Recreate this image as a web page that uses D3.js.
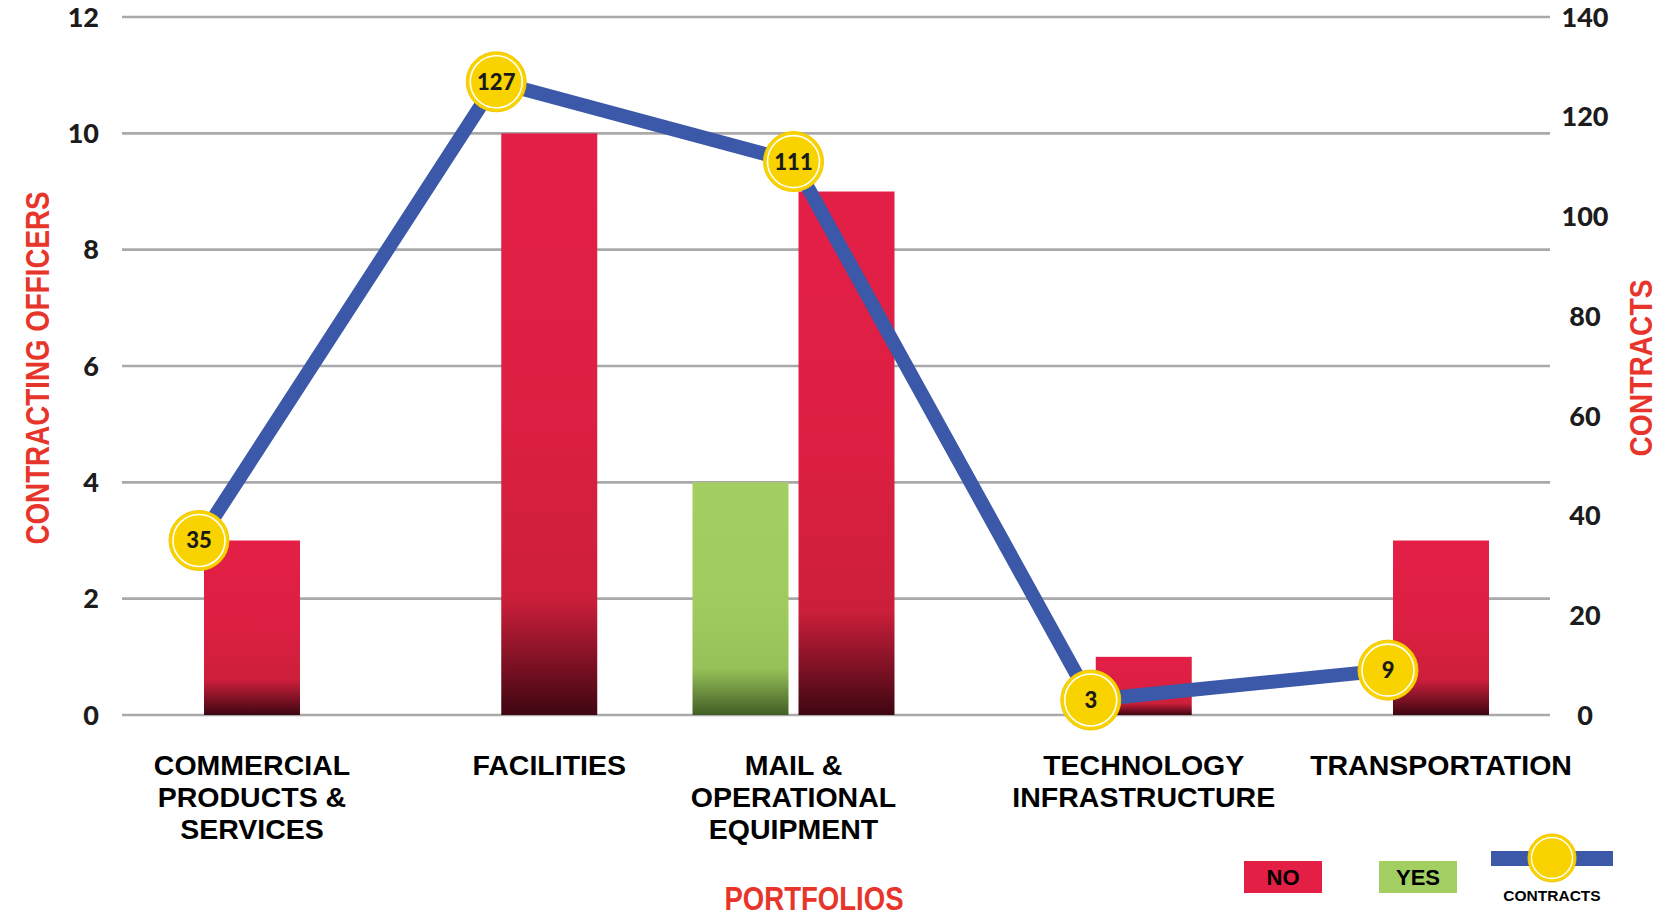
<!DOCTYPE html>
<html><head><meta charset="utf-8">
<script src="https://cdn.jsdelivr.net/npm/d3@7"></script>
<style>html,body{margin:0;padding:0;background:#fff;}svg{display:block;}</style>
</head><body>
<svg id="chart" width="1667" height="917"></svg>
<script>
// ---- data ----
const categories = ["COMMERCIAL PRODUCTS & SERVICES","FACILITIES","MAIL & OPERATIONAL EQUIPMENT","TECHNOLOGY INFRASTRUCTURE","TRANSPORTATION"];
const categoryLines = [["COMMERCIAL","PRODUCTS &","SERVICES"],["FACILITIES"],["MAIL &","OPERATIONAL","EQUIPMENT"],["TECHNOLOGY","INFRASTRUCTURE"],["TRANSPORTATION"]];
const seriesNames = ["YES","NO"];
const officersYes = [0, 0, 4, 0, 0];
const officersNo = [3, 10, 9, 1, 3];
const contracts = [35, 127, 111, 3, 9];
const leftTicks = [0, 2, 4, 6, 8, 10, 12];
const rightTicks = [0, 20, 40, 60, 80, 100, 120, 140];

// ---- layout ----
const svg = d3.select("#chart");
const plotTop = 17, plotBottom = 715, gridX0 = 122, gridX1 = 1550;
const bw = 96, gap = 10;

const x = d3.scalePoint().domain(categories).range([199, 1388]);
const x1 = d3.scaleBand().domain(seriesNames).range([-(bw + gap/2), bw + gap/2]).paddingInner(gap/(bw+gap)).paddingOuter(0);
const y = d3.scaleLinear().domain([0, 12]).range([plotBottom, plotTop]);
const y2 = d3.scaleLinear().domain([0, 140]).range([plotBottom, plotTop]);

const defs = svg.append("defs");
function grad(id, stops){
  const g = defs.append("linearGradient").attr("id", id).attr("x1",0).attr("y1",0).attr("x2",0).attr("y2",1);
  stops.forEach(s => g.append("stop").attr("offset", s[0]).attr("stop-color", s[1]));
}
grad("gNo", [[0,"#e41f47"],[0.5,"#dc1f42"],[0.8,"#cc1f3b"],[1,"#3e0611"]]);
grad("gYes", [[0,"#a3cf62"],[0.5,"#a0cc5f"],[0.8,"#96c159"],[1,"#425e26"]]);

// gridlines
svg.append("g").selectAll("line").data(leftTicks).join("line")
  .attr("x1", gridX0).attr("x2", gridX1)
  .attr("y1", d => y(d)).attr("y2", d => y(d))
  .attr("stroke", "#a9a9ac").attr("stroke-width", 2.6);

const numFont = "Lato, 'Open Sans', sans-serif";
// left tick labels
svg.append("g").selectAll("text").data(leftTicks).join("text")
  .attr("x", 99).attr("y", d => y(d)).attr("dy", "0.36em")
  .attr("text-anchor", "end")
  .style("font-family", numFont).style("font-weight", 900).style("font-size", "27px").attr("fill", "#1c1c1c")
  .text(d => d);
// right tick labels
svg.append("g").selectAll("text").data(rightTicks).join("text")
  .attr("x", 1585).attr("y", d => y2(d)).attr("dy", "0.36em")
  .attr("text-anchor", "middle")
  .style("font-family", numFont).style("font-weight", 900).style("font-size", "27px").attr("fill", "#1c1c1c")
  .text(d => d);

// bars
const barData = [];
categories.forEach((c, i) => {
  barData.push({cat: c, s: "YES", v: officersYes[i]});
  barData.push({cat: c, s: "NO", v: officersNo[i]});
});
svg.append("g").selectAll("rect").data(barData.filter(d => d.v > 0)).join("rect")
  .attr("x", d => x(d.cat) + x1(d.s))
  .attr("width", x1.bandwidth())
  .attr("y", d => y(d.v))
  .attr("height", d => y(0) - y(d.v))
  .attr("fill", d => d.s === "NO" ? "url(#gNo)" : "url(#gYes)");

// category labels
const labelFont = "'Liberation Sans', Arial, Helvetica, sans-serif";
const lab = svg.append("g").selectAll("text").data(categories).join("text")
  .attr("text-anchor", "middle")
  .style("font-family", labelFont).style("font-weight", 700).style("font-size", "28.5px").attr("fill", "#000")
  .attr("transform", (c, i) => {
    const drawn = barData.filter(d => d.cat === c && d.v > 0).map(d => x(c) + x1(d.s) + x1.bandwidth()/2);
    return `translate(${d3.mean(drawn)},775)`;
  });
lab.each(function(c, i){
  d3.select(this).selectAll("tspan").data(categoryLines[i]).join("tspan")
    .attr("x", 0).attr("y", (d, j) => j * 32).text(d => d);
});

// contracts line
const line = d3.line().x((d, i) => x(categories[i])).y(d => y2(d));
svg.append("path").datum(contracts).attr("d", line)
  .attr("fill", "none").attr("stroke", "#3c58a8").attr("stroke-width", 14).attr("stroke-linejoin", "miter");

const pts = svg.append("g").selectAll("g").data(contracts).join("g")
  .attr("transform", (d, i) => `translate(${x(categories[i])},${y2(d)})`);
pts.append("circle").attr("r", 30).attr("fill", "#f8d300").attr("stroke", "#f3c800").attr("stroke-width", 1);
pts.append("circle").attr("r", 26).attr("fill", "none").attr("stroke", "#fff").attr("stroke-width", 1.6);
pts.append("text").attr("text-anchor", "middle").attr("dy", "0.36em")
  .style("font-family", numFont).style("font-weight", 900).style("font-size", "22px").attr("fill", "#1a1a1a")
  .text(d => d);

// axis titles
const titleFont = "'Liberation Sans Narrow', 'Liberation Sans', Arial, sans-serif";
svg.append("text").attr("transform", "translate(49,368) rotate(-90)")
  .attr("text-anchor", "middle")
  .style("font-family", titleFont).style("font-weight", 700).style("font-size", "34px").attr("fill", "#e8352b")
  .attr("textLength", 353).attr("lengthAdjust", "spacingAndGlyphs")
  .text("CONTRACTING OFFICERS");
svg.append("text").attr("transform", "translate(1652,368) rotate(-90)")
  .attr("text-anchor", "middle")
  .style("font-family", titleFont).style("font-weight", 700).style("font-size", "32px").attr("fill", "#e8352b")
  .attr("textLength", 177).attr("lengthAdjust", "spacingAndGlyphs")
  .text("CONTRACTS");
svg.append("text").attr("x", 814).attr("y", 910)
  .attr("text-anchor", "middle")
  .style("font-family", titleFont).style("font-weight", 700).style("font-size", "33px").attr("fill", "#e8352b")
  .attr("textLength", 179).attr("lengthAdjust", "spacingAndGlyphs")
  .text("PORTFOLIOS");

// legend
const legendItems = [{name: "NO", color: "#e31f45", x: 1244}, {name: "YES", color: "#a3cf62", x: 1379}];
const lg = svg.append("g").selectAll("g").data(legendItems).join("g");
lg.append("rect").attr("x", d => d.x).attr("y", 861).attr("width", 78).attr("height", 32).attr("fill", d => d.color);
lg.append("text").attr("x", d => d.x + 39).attr("y", 877).attr("dy", "0.36em").attr("text-anchor", "middle")
  .style("font-family", labelFont).style("font-weight", 700).style("font-size", "22px").attr("fill", "#000")
  .text(d => d.name);
svg.append("rect").attr("x", 1491).attr("y", 851).attr("width", 122).attr("height", 15).attr("fill", "#3c58a8");
svg.append("circle").attr("cx", 1552).attr("cy", 858).attr("r", 24).attr("fill", "#f8d300").attr("stroke", "#f3c800");
svg.append("circle").attr("cx", 1552).attr("cy", 858).attr("r", 20.5).attr("fill", "none").attr("stroke", "#fff").attr("stroke-width", 1.3);
svg.append("text").attr("x", 1552).attr("y", 901).attr("text-anchor", "middle")
  .style("font-family", labelFont).style("font-weight", 700).style("font-size", "15.5px").attr("fill", "#000")
  .text("CONTRACTS");
</script>
</body></html>
